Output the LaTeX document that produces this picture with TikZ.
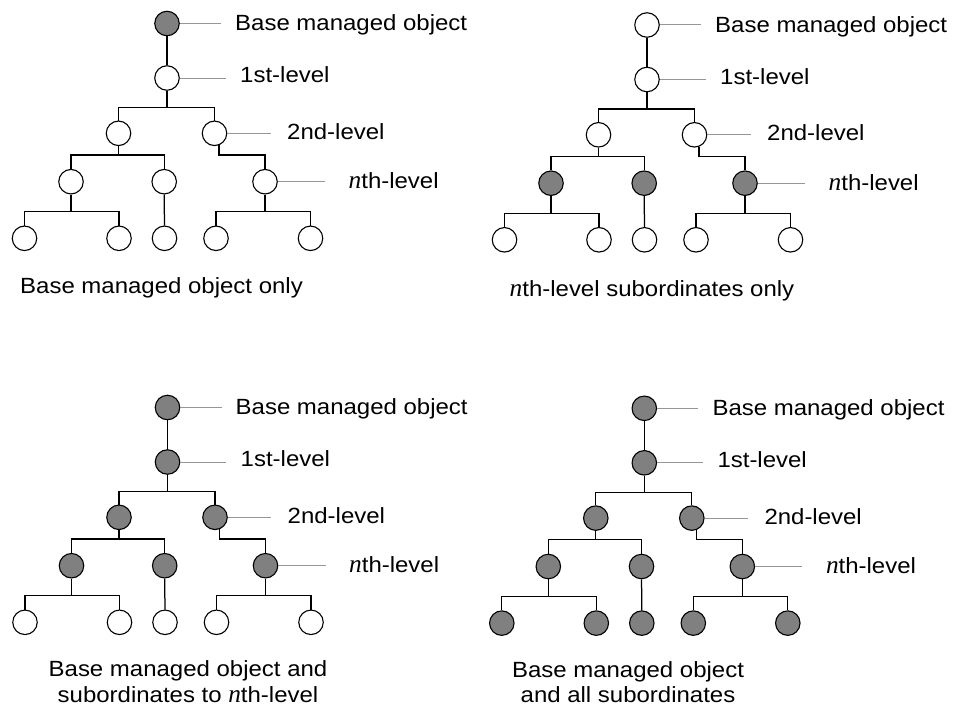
\documentclass[tikz,border=0pt]{standalone}
\usepackage{fontspec}
\setmainfont{Liberation Sans}[FakeStretch=1.09]
\newfontfamily\serifit{Liberation Serif}[Scale=1.15]
\newcommand\nit{{\serifit\itshape n}}
\newcommand\labfont{\fontsize{22}{26}\selectfont}
\definecolor{shade}{RGB}{128,128,128}
\definecolor{leadgray}{RGB}{150,150,150}
\tikzset{
  obj/.style={circle, draw=black, line width=1.1pt, minimum size=24.5pt, inner sep=0pt},
  fullobj/.style={obj, fill=shade},
  emptyobj/.style={obj, fill=white},
  link/.style={line width=1.25pt, black},
  lead/.style={line width=1pt, leadgray},
  lbl/.style={anchor=base west, inner sep=0pt, font=\labfont},
  captext/.style={anchor=base, inner sep=0pt, font=\labfont},
}
% #1 prefix, #2 dx, #3 dy, #4 root, #5 level1, #6 level2, #7 nth level, #8 leaves
\newcommand\drawtree[8]{%
\begin{scope}[shift={(#2,#3)}]
  \node[#4] (#1r)  at (167,23.5) {};
  \node[#5] (#1a)  at (167,78) {};
  \node[#6] (#1ba) at (118.5,133.3) {};
  \node[#6] (#1bb) at (214.5,133.3) {};
  \node[#7] (#1ca) at (71,181.7) {};
  \node[#7] (#1cb) at (164.2,181.7) {};
  \node[#7] (#1cc) at (265,181.7) {};
  \node[#8] (#1da) at (24.5,238.3) {};
  \node[#8] (#1db) at (119,238.3) {};
  \node[#8] (#1dc) at (164.5,238.3) {};
  \node[#8] (#1dd) at (216,238.3) {};
  \node[#8] (#1de) at (310.5,238.3) {};
  \coordinate (#1j1) at (167,107.5);
  \coordinate (#1j2) at (118.5,155);
  \coordinate (#1j3) at (265,155);
  \coordinate (#1j4) at (71,211.7);
  \coordinate (#1j5) at (265,211.7);
  \draw[link] (#1r) -- (#1a);
  \draw[link] (#1a) -- (#1j1);
  \draw[link] (#1j1) -| (#1ba);
  \draw[link] (#1j1) -| (#1bb);
  \draw[link] (#1ba) -- (#1j2);
  \draw[link] (#1j2) -| (#1ca);
  \draw[link] (#1j2) -| (#1cb);
  \draw[link] (#1bb.-70) |- (#1j3) -- (#1cc);
  \draw[link] (#1ca) -- (#1j4);
  \draw[link] (#1j4) -| (#1da);
  \draw[link] (#1j4) -| (#1db);
  \draw[link] (#1cb) -- (#1dc);
  \draw[link] (#1cc) -- (#1j5);
  \draw[link] (#1j5) -| (#1dd);
  \draw[link] (#1j5) -| (#1de);
  \coordinate (#1e0) at (221,23.5);
  \coordinate (#1e1) at (225.7,78);
  \coordinate (#1e2) at (270.7,133.3);
  \coordinate (#1e3) at (325,181.7);
  \draw[lead] (#1r) -- (#1e0);
  \draw[lead] (#1a) -- (#1e1);
  \draw[lead] (#1bb) -- (#1e2);
  \draw[lead] (#1cc) -- (#1e3);
  \node[lbl] (#1t0) at (235,30.7) {Base managed object};
  \node[lbl] (#1t1) at (240,82.7) {1st-level};
  \node[lbl] (#1t2) at (287,139.3) {2nd-level};
  \node[lbl] (#1t3) at (348.5,188.8) {\nit th-level};
\end{scope}}
\begin{document}
\begin{tikzpicture}[x=1pt, y=-1pt]
  \useasboundingbox[fill=white] (0,0) rectangle (965,709);
  \drawtree{A}{0}{0}{fullobj}{emptyobj}{emptyobj}{emptyobj}{emptyobj}
  \drawtree{B}{480}{1.5}{emptyobj}{emptyobj}{emptyobj}{fullobj}{emptyobj}
  \drawtree{C}{0.5}{384}{fullobj}{fullobj}{fullobj}{fullobj}{emptyobj}
  \drawtree{D}{477.3}{384.8}{fullobj}{fullobj}{fullobj}{fullobj}{fullobj}
  \node[lbl] (capA) at (20,293.3) {Base managed object only};
  \node[lbl] (capB) at (509.5,296) {\nit th-level subordinates only};
  \node[captext] (capC1) at (188,676.7) {Base managed object and};
  \node[captext] (capC2) at (188,702.7) {subordinates to \nit th-level};
  \node[captext] (capD1) at (628,677.3) {Base managed object};
  \node[captext] (capD2) at (628,702.3) {and all subordinates};
\end{tikzpicture}
\end{document}
